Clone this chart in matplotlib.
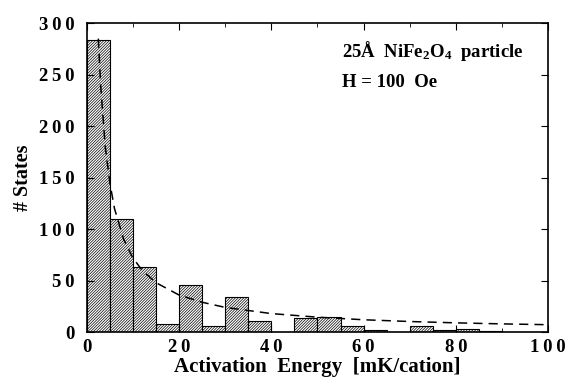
import matplotlib
matplotlib.use("Agg")
import matplotlib.pyplot as plt
from matplotlib.ticker import MultipleLocator, FuncFormatter

plt.rcParams['font.family'] = ['Liberation Serif', 'DejaVu Serif']
plt.rcParams['font.weight'] = 'bold'
plt.rcParams['hatch.linewidth'] = 0.5
plt.rcParams['mathtext.fontset'] = 'custom'
plt.rcParams['mathtext.rm'] = 'Liberation Serif:bold'
plt.rcParams['mathtext.bf'] = 'Liberation Serif:bold'
plt.rcParams['mathtext.it'] = 'Liberation Serif:bold'
plt.rcParams['mathtext.default'] = 'rm'

# histogram bins (left edges, width 5 mK/cation)
bin_left = [0, 5, 10, 15, 20, 25, 30, 35, 40, 45, 50, 55, 60, 65, 70, 75, 80, 85, 90, 95]
counts = [284, 110, 63, 8, 46, 6, 34, 11, 0, 14, 15, 6, 2, 0, 6, 2, 3, 1, 0, 0]

# dashed fit curve
fit_e = [2.5, 3, 4, 5, 6, 8, 10, 12, 15, 20, 25, 30, 40, 50, 60, 70, 80, 90, 100]
fit_n = [285, 240, 180, 145, 120, 90, 72, 60, 48, 36, 29, 24, 18, 14.5, 12, 10.3, 9, 8, 7.2]


def spaced(v, pos):
    # old typeset style: digits spread apart
    return '\u2009'.join(str(int(round(v))))


def main():
    fig = plt.figure(figsize=(5.71, 3.80), dpi=100)
    ax = fig.add_axes([0.152, 0.126, 0.808, 0.813])

    ax.bar(bin_left, counts, width=5, align='edge', color='white',
           edgecolor='black', linewidth=0.8, hatch='////////////')
    ax.plot(fit_e, fit_n, color='black', linestyle=(0, (6, 4)), linewidth=1.1)

    ax.set_xlim(0, 100)
    ax.set_ylim(0, 300)
    ax.xaxis.set_major_locator(MultipleLocator(20))
    ax.xaxis.set_minor_locator(MultipleLocator(10))
    ax.yaxis.set_major_locator(MultipleLocator(50))
    ax.xaxis.set_major_formatter(FuncFormatter(spaced))
    ax.yaxis.set_major_formatter(FuncFormatter(spaced))
    ax.tick_params(which='both', direction='in', top=True, right=True)
    ax.tick_params(which='major', length=5, labelsize=13.5, pad=5)
    ax.tick_params(axis='y', which='major', pad=9)
    ax.tick_params(which='minor', length=3)
    for lab in ax.get_xticklabels() + ax.get_yticklabels():
        lab.set_fontweight('bold')
    for s in ax.spines.values():
        s.set_linewidth(1.2)

    ax.set_xlabel('Activation  Energy  [mK/cation]', fontsize=15, fontweight='bold', labelpad=1)
    ax.set_ylabel('# States', fontsize=14.5, fontweight='bold', labelpad=4)

    ax.text(0.553, 0.91, '25Å  NiFe$_2$O$_4$  particle', transform=ax.transAxes,
            fontsize=13.5, fontweight='bold', va='center')
    ax.text(0.553, 0.808, 'H = 100  Oe', transform=ax.transAxes,
            fontsize=13.5, fontweight='bold', va='center')

    fig.savefig('out.png', dpi=100)


if __name__ == '__main__':
    main()
